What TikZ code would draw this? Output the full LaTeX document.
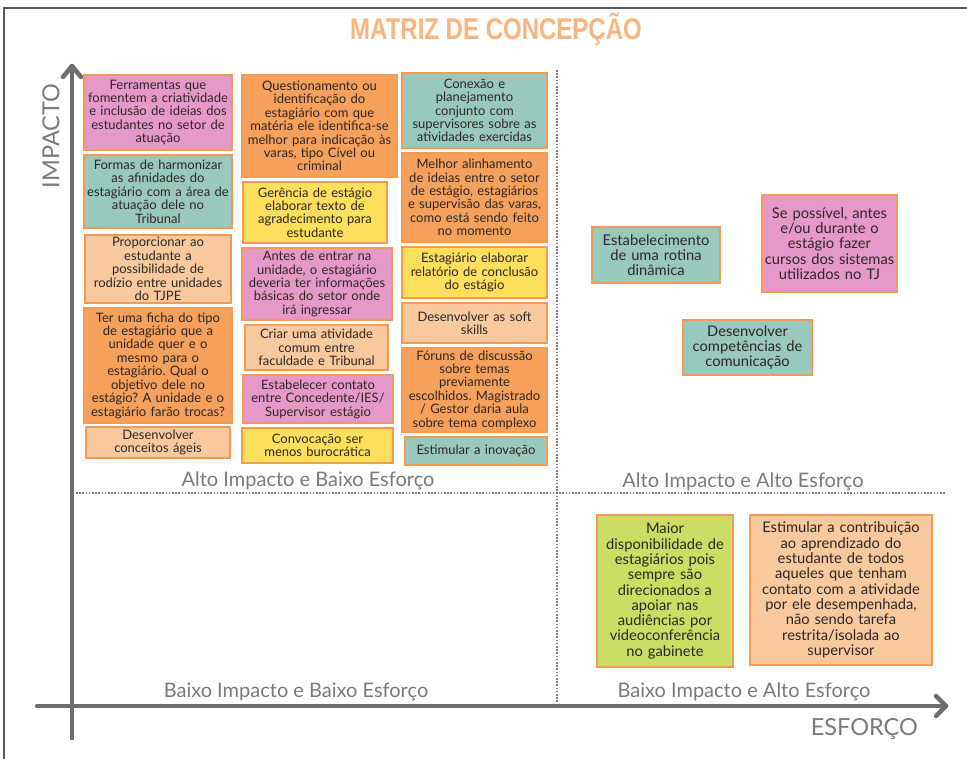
\documentclass[tikz,border=0pt]{standalone}
\usepackage{fontspec}
\setmainfont{Lato}
\newfontfamily\titlefont{Liberation Sans}
\usetikzlibrary{arrows.meta}
\definecolor{cpink}{HTML}{E699C9}
\definecolor{cteal}{HTML}{99C8BC}
\definecolor{corange}{HTML}{F5A05B}
\definecolor{cpeach}{HTML}{F8C99D}
\definecolor{cyellow}{HTML}{FDDF5C}
\definecolor{cgreen}{HTML}{C9DE63}
\definecolor{cborder}{HTML}{F39A55}
\definecolor{ctext}{HTML}{2E2626}
\definecolor{caxis}{HTML}{6E6E6E}
\definecolor{clabel}{HTML}{7A7A7A}
\definecolor{ctitle}{HTML}{F9B47F}
\definecolor{cframe}{HTML}{5A5A5A}
\tikzset{
  note/.style={draw=cborder, line width=1.4pt, align=center, inner sep=1pt,
    text=ctext, font=\fontsize{13}{13.4}\selectfont},
  bignote/.style={note, font=\fontsize{14.7}{15.3}\selectfont},
  quadlabel/.style={text=clabel, font=\fontsize{20}{22}\selectfont, inner sep=0pt},
  axislabel/.style={text=clabel, font=\fontsize{23.5}{25}\selectfont, inner sep=0pt},
  axisline/.style={draw=caxis, line width=4.5pt},
  chevron/.style={draw=caxis, line width=4.5pt, line cap=round, line join=round},
  divider/.style={draw=clabel, line width=1.6pt, dash pattern=on 1.6pt off 1.6pt}
}
\begin{document}
\frenchspacing
\begin{tikzpicture}[x=1pt,y=-1pt]
\useasboundingbox (0,0) rectangle (967,759);
% frame
\draw[cframe, line width=2pt] (4,759) -- (4,8) -- (967,8);
% title
\node[text=ctitle, inner sep=0pt] (title) at (496,29) {\scalebox{0.8}[1]{\titlefont\bfseries\fontsize{30}{32}\selectfont MATRIZ DE CONCEPÇÃO}};
% dividers
\coordinate (vtop) at (557,70);
\coordinate (vbot) at (557,706);
\coordinate (hleft) at (76,493);
\coordinate (hright) at (946,493);
\draw[divider] (vtop) -- (vbot);
\draw[divider] (hleft) -- (hright);
% axes
\coordinate (ytop) at (72,66);
\coordinate (ybot) at (72,740);
\coordinate (xleft) at (37,706);
\coordinate (xright) at (946,706);
\coordinate (ybarbl) at (63,77);
\coordinate (ybarbr) at (81,77);
\coordinate (xbarbt) at (936,696);
\coordinate (xbarbb) at (936,716);
\draw[axisline] (ybot) -- (ytop);
\draw[chevron] (ybarbl) -- (ytop) -- (ybarbr);
\draw[axisline, line cap=round] (xleft) -- (xright);
\draw[chevron] (xbarbt) -- (xright) -- (xbarbb);
\node[axislabel, rotate=90] (impacto) at (51,136) {IMPACTO};
\node[axislabel, anchor=east] (esforco) at (918,729) {ESFORÇO};
% quadrant labels
\node[quadlabel] (q1) at (308,481) {Alto Impacto e Baixo Esforço};
\node[quadlabel] (q2) at (743,482) {Alto Impacto e Alto Esforço};
\node[quadlabel] (q3) at (296,692) {Baixo Impacto e Baixo Esforço};
\node[quadlabel] (q4) at (744,692) {Baixo Impacto e Alto Esforço};
% column 1
\node[note, fill=cpink, minimum width=148, minimum height=75, text width=146pt] (a1) at (158,112.5) {Ferramentas que\\ fomentem a criatividade\\ e inclusão de ideias dos\\ estudantes no setor de\\ atuação};
\node[note, fill=cteal, minimum width=148, minimum height=73, text width=146pt] (a2) at (158,191.5) {Formas de harmonizar\\ as afinidades do\\ estagiário com a área de\\ atuação dele no\\ Tribunal};
\node[note, fill=cpeach, minimum width=146, minimum height=68, text width=144pt] (a3) at (158,269) {Proporcionar ao\\ estudante a\\ possibilidade de\\ rodízio entre unidades\\ do TJPE};
\node[note, fill=corange, minimum width=148, minimum height=115, text width=146pt] (a4) at (158,365.5) {Ter uma ficha do tipo\\ de estagiário que a\\ unidade quer e o\\ mesmo para o\\ estagiário. Qual o\\ objetivo dele no\\ estágio? A unidade e o\\ estagiário farão trocas?};
\node[note, fill=cpeach, minimum width=144, minimum height=31, text width=142pt] (a5) at (158,442.5) {Desenvolver\\ conceitos ágeis};
% column 2
\node[note, fill=corange, minimum width=155, minimum height=102, text width=153pt] (b1) at (319.5,126) {Questionamento ou\\ identificação do\\ estagiário com que\\ matéria ele identifica-se\\ melhor para indicação às\\ varas, tipo Cível ou\\ criminal};
\node[note, fill=cyellow, minimum width=144, minimum height=61, text width=142pt] (b2) at (315,212.5) {Gerência de estágio\\ elaborar texto de\\ agradecimento para\\ estudante};
\node[note, fill=cpink, minimum width=150, minimum height=72, text width=148pt] (b3) at (317,284) {Antes de entrar na\\ unidade, o estagiário\\ deveria ter informações\\ básicas do setor onde\\ irá ingressar};
\node[note, fill=cpeach, minimum width=143, minimum height=45, text width=141pt] (b4) at (316.5,347.5) {Criar uma atividade\\ comum entre\\ faculdade e Tribunal};
\node[note, fill=cpink, minimum width=150, minimum height=48, text width=148pt] (b5) at (318,399) {Estabelecer contato\\ entre Concedente/IES/\\ Supervisor estágio};
\node[note, fill=cyellow, minimum width=151, minimum height=35, text width=149pt] (b6) at (317.5,445.5) {Convocação ser\\ menos burocrática};
% column 3
\node[note, fill=cteal, minimum width=145, minimum height=75, text width=143pt] (c1) at (474.5,110.5) {Conexão e\\ planejamento\\ conjunto com\\ supervisores sobre as\\ atividades exercidas};
\node[note, fill=corange, minimum width=145, minimum height=89, text width=143pt] (c2) at (474.5,197.5) {Melhor alinhamento\\ de ideias entre o setor\\ de estágio, estagiários\\ e supervisão das varas,\\ como está sendo feito\\ no momento};
\node[note, fill=cyellow, minimum width=145, minimum height=51, text width=143pt] (c3) at (474.5,272.5) {Estagiário elaborar\\ relatório de conclusão\\ do estágio};
\node[note, fill=cpeach, minimum width=145, minimum height=40, text width=143pt] (c4) at (474.5,323) {Desenvolver as soft\\ skills};
\node[note, fill=corange, minimum width=145, minimum height=84, text width=143pt] (c5) at (474.5,390) {Fóruns de discussão\\ sobre temas\\ previamente\\ escolhidos. Magistrado\\ / Gestor daria aula\\ sobre tema complexo};
\node[note, fill=cteal, minimum width=142, minimum height=28, text width=140pt] (c6) at (476,451) {Estimular a inovação};
% right upper quadrant
\node[bignote, fill=cteal, minimum width=128, minimum height=56, text width=126pt] (d1) at (656,255) {Estabelecimento\\ de uma rotina\\ dinâmica};
\node[bignote, fill=cpink, minimum width=135, minimum height=97, text width=133pt] (d2) at (829.5,243.5) {Se possível, antes\\ e/ou durante o\\ estágio fazer\\ cursos dos sistemas\\ utilizados no TJ};
\node[bignote, fill=cteal, minimum width=129, minimum height=55, text width=127pt] (d3) at (747.5,347.5) {Desenvolver\\ competências de\\ comunicação};
% right lower quadrant
\node[bignote, fill=cgreen, minimum width=136, minimum height=152, text width=134pt] (e1) at (665,591) {Maior\\ disponibilidade de\\ estagiários pois\\ sempre são\\ direcionados a\\ apoiar nas\\ audiências por\\ videoconferência\\ no gabinete};
\node[bignote, fill=cpeach, minimum width=182, minimum height=150, text width=180pt] (e2) at (841,590) {Estimular a contribuição\\ ao aprendizado do\\ estudante de todos\\ aqueles que tenham\\ contato com a atividade\\ por ele desempenhada,\\ não sendo tarefa\\ restrita/isolada ao\\ supervisor};
\end{tikzpicture}
\end{document}
